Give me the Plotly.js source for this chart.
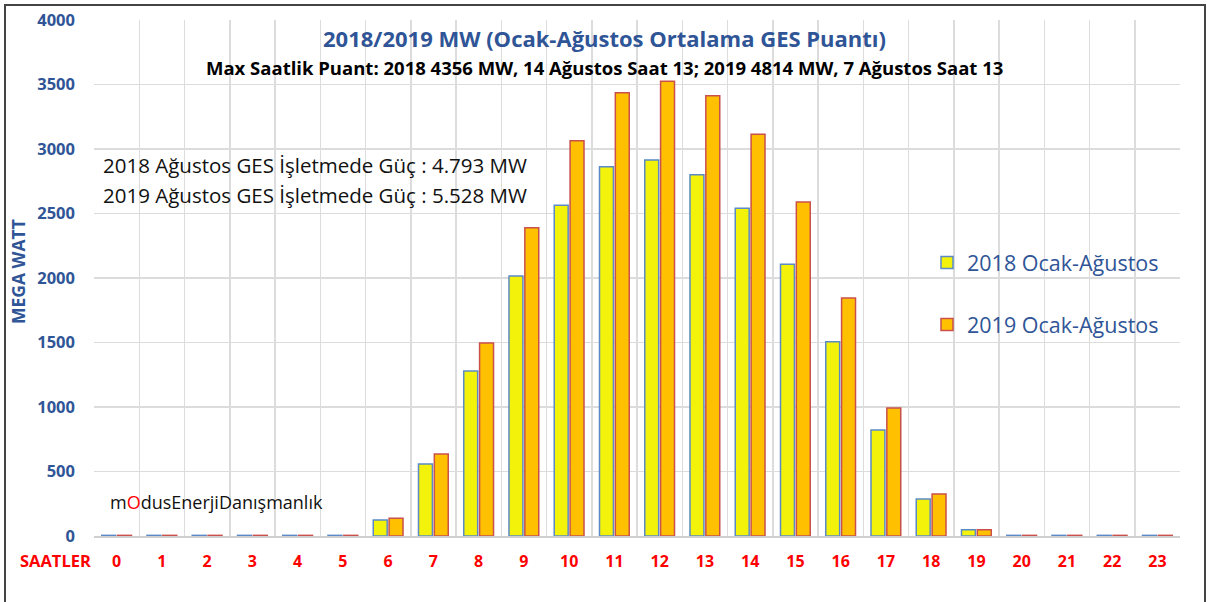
<!DOCTYPE html>
<html>
<head>
<meta charset="utf-8">
<script src="https://cdn.plot.ly/plotly-3.0.1.min.js"></script>
<style>
  html, body { margin: 0; padding: 0; background: #ffffff; width: 1211px; height: 602px; overflow: hidden; }
  #frame { position: absolute; left: 4px; top: 4px; width: 1202px; height: 600px; border: 2px solid #444444; border-bottom: none; box-sizing: border-box; }
  #chart { position: absolute; left: 6px; top: 6px; width: 1200px; height: 596px; }
</style>
</head>
<body>
<div id="frame"></div>
<div id="chart"></div>
<script>
const hours = ["0","1","2","3","4","5","6","7","8","9","10","11","12","13","14","15","16","17","18","19","20","21","22","23"];
const values2018 = [5,5,5,5,5,5,124,558,1279,2015,2563,2863,2915,2801,2540,2106,1506,822,287,49,5,5,5,5];
const values2019 = [5,5,5,5,5,5,138,636,1497,2390,3064,3437,3525,3413,3114,2589,1845,992,326,49,5,5,5,5];
const seriesNames = ["2018 Ocak-Ağustos", "2019 Ocak-Ağustos"];
const yTicks = [0,500,1000,1500,2000,2500,3000,3500,4000];

const FONT = "'Open Sans', 'Noto Sans', sans-serif";
const BLUE = "#2F5597";

const traces = [
  {
    type: "bar", x: hours, y: values2018, name: seriesNames[0], legendgroup: "a",
    marker: { color: "#F2F20A", line: { color: "#5B8AC6", width: 1.5 } },
    hoverinfo: "x+y+name"
  },
  {
    type: "bar", x: hours, y: values2019, name: seriesNames[1], legendgroup: "b",
    marker: { color: "#FFC000", line: { color: "#C9504B", width: 1.5 } },
    hoverinfo: "x+y+name"
  }
];

const layout = {
  width: 1200, height: 596,
  margin: { l: 88, r: 26, t: 14, b: 66 },
  paper_bgcolor: "rgba(0,0,0,0)",
  plot_bgcolor: "#ffffff",
  font: { family: FONT, color: "#000" },
  barmode: "group",
  bargap: 0.3,
  bargroupgap: 0.12,
  showlegend: true,
  legend: {
    x: (927 - 94) / 1086, xanchor: "left", y: (536 - 242) / 516, yanchor: "top",
    bgcolor: "rgba(0,0,0,0)",
    font: { family: FONT, size: 21.5, color: BLUE },
    tracegroupgap: 31,
    itemwidth: 30
  },
  xaxis: {
    type: "category",
    tickson: "boundaries",
    showgrid: true, gridcolor: "#dcdcdc", gridwidth: 1.5,
    showline: true, linecolor: "#d0d0d0", linewidth: 1.5,
    ticks: "", ticklabelstandoff: 10,
    tickfont: { family: FONT, size: 16, color: "#FF0000", weight: "bold" },
    range: [-0.5, 23.5],
    mirror: false
  },
  yaxis: {
    range: [0, 4000],
    tickvals: yTicks,
    ticktext: yTicks.map(String),
    showgrid: true, gridcolor: "#dcdcdc", gridwidth: 1.5,
    zeroline: false, showline: false,
    ticks: "", ticklabelstandoff: 18,
    tickfont: { family: FONT, size: 16.5, color: BLUE, weight: "bold" }
  },
  annotations: [
    { text: "<b>2018/2019 MW (Ocak-Ağustos Ortalama GES Puantı)</b>", xref: "paper", yref: "paper",
      x: 0.4705, y: (536 - 38) / 516, xanchor: "center", yanchor: "middle", showarrow: false,
      font: { family: FONT, size: 22, color: BLUE } },
    { text: "<b>Max Saatlik Puant: 2018 4356 MW, 14 Ağustos Saat 13; 2019 4814 MW, 7 Ağustos Saat 13</b>", xref: "paper", yref: "paper",
      x: 0.4705, y: (536 - 67) / 516, xanchor: "center", yanchor: "middle", showarrow: false,
      font: { family: FONT, size: 18.5, color: "#000" } },
    { text: "2018 Ağustos GES İşletmede Güç : 4.793 MW", xref: "paper", yref: "paper",
      x: (101 - 94) / 1086, y: (536 - 165) / 516, xanchor: "left", yanchor: "middle", showarrow: false,
      font: { family: FONT, size: 20.5, color: "#111" } },
    { text: "2019 Ağustos GES İşletmede Güç : 5.528 MW", xref: "paper", yref: "paper",
      x: (101 - 94) / 1086, y: (536 - 195) / 516, xanchor: "left", yanchor: "middle", showarrow: false,
      font: { family: FONT, size: 20.5, color: "#111" } },
    { text: "m<span style='color:#FF0000'>O</span>dusEnerjiDanışmanlık", xref: "paper", yref: "paper",
      x: (108 - 94) / 1086, y: (536 - 502) / 516, xanchor: "left", yanchor: "middle", showarrow: false,
      font: { family: FONT, size: 18, color: "#111" } },
    { text: "<b>SAATLER</b>", xref: "paper", yref: "paper",
      x: (55 - 94) / 1086, y: -(560 - 536) / 516, xanchor: "center", yanchor: "middle", showarrow: false,
      font: { family: FONT, size: 16.5, color: "#FF0000" } },
    { text: "<b>MEGA WATT</b>", xref: "paper", yref: "paper", textangle: -90,
      x: (18 - 94) / 1086, y: (536 - 272) / 516, xanchor: "center", yanchor: "middle", showarrow: false,
      font: { family: FONT, size: 17.5, color: BLUE } }
  ]
};

Plotly.newPlot("chart", traces, layout, { displayModeBar: false, staticPlot: true });
</script>
</body>
</html>
